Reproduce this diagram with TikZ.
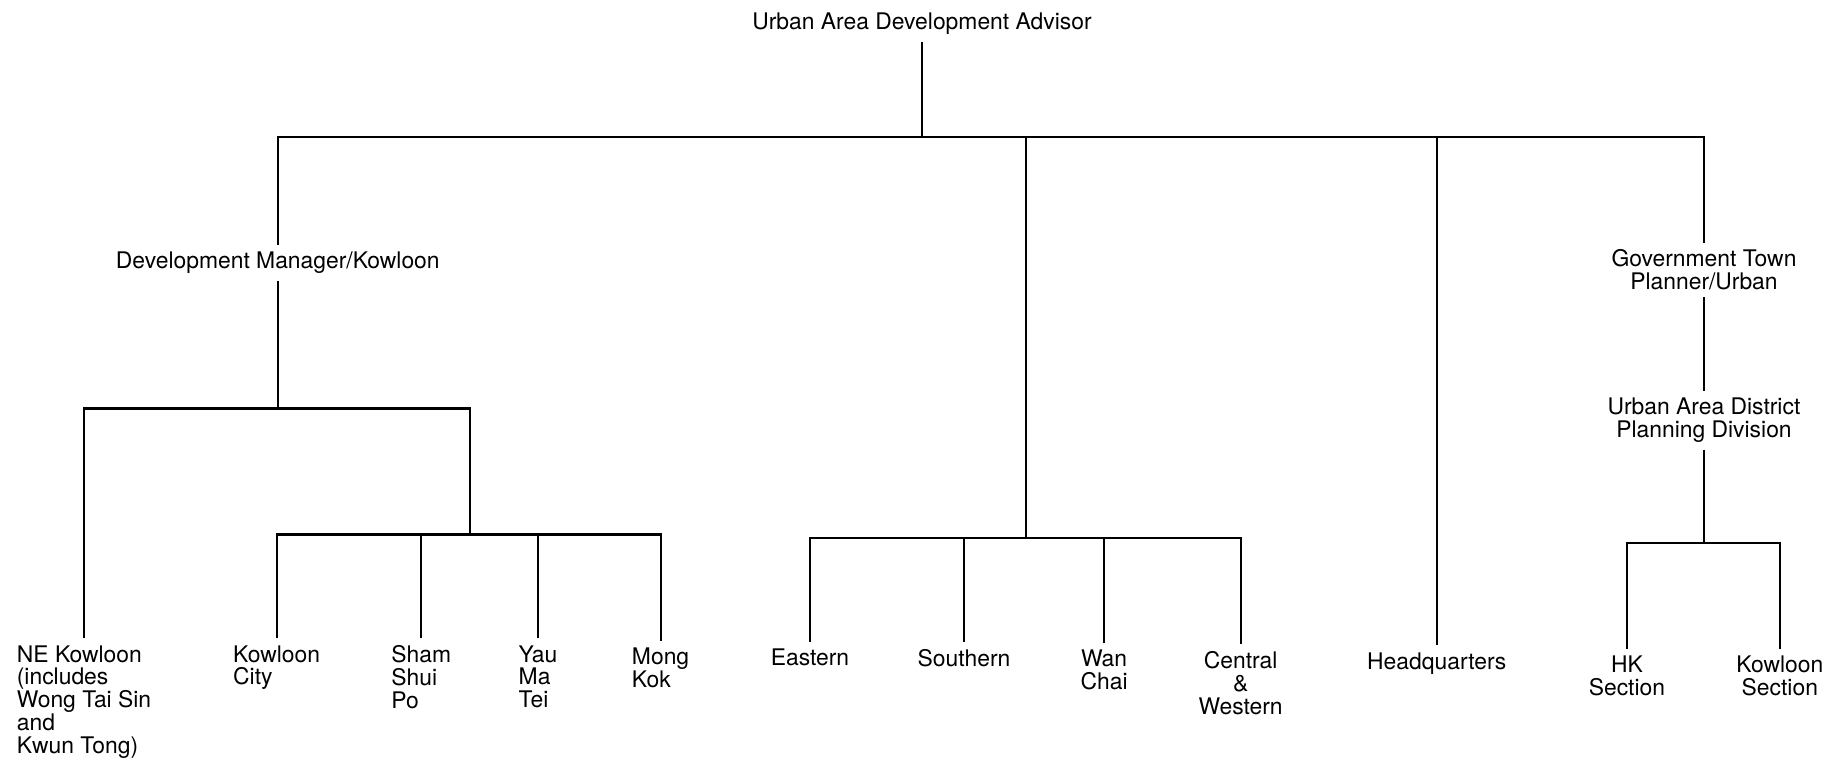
\documentclass[tikz,border=0pt]{standalone}
\usepackage{fontspec}
\setmainfont{TeX Gyre Heros}
\begin{document}
\begin{tikzpicture}[x=0.5pt,y=-0.5pt,
  lab/.style={inner sep=0pt,outer sep=3pt,font=\fontsize{9.8pt}{9.8pt}\selectfont},
  leaf/.style={lab,anchor=north,align=left},
  cleaf/.style={lab,anchor=north,align=center},
  link/.style={line width=0.9pt}]
\useasboundingbox (0,0) rectangle (1568,649);

% levels of the horizontal bars
\coordinate (b1) at (0,117);
\coordinate (kl) at (0,350);
\coordinate (kj) at (403,458);
\coordinate (mj) at (879,461);
\coordinate (rj) at (1460,465);

% heads
\node[lab,anchor=north] (adv) at (790,5) {Urban Area Development Advisor};
\node[lab,anchor=north] (dm) at (238,210) {Development Manager/Kowloon};
\node[cleaf] (gtp) at (1460,208) {Government Town\\Planner/Urban};
\node[cleaf] (uad) at (1460,335) {Urban Area District\\Planning Division};

% Kowloon districts
\node[leaf] (ne) at (72,547) {NE Kowloon\\(includes\\Wong Tai Sin\\and\\Kwun Tong)};
\node[leaf] (kc) at (237,547) {Kowloon\\City};
\node[leaf] (ssp) at (361,547) {Sham\\Shui\\Po};
\node[leaf] (ymt) at (461,547) {Yau\\Ma\\Tei};
\node[leaf] (mk) at (566,549) {Mong\\Kok};

% Hong Kong Island districts
\node[cleaf] (east) at (694,550) {Eastern};
\node[cleaf] (sth) at (826,550) {Southern};
\node[cleaf] (wan) at (946,551) {Wan\\Chai};
\node[cleaf] (cw) at (1063,552) {Central\\\&\\Western};

\node[cleaf] (hq) at (1231,553) {Headquarters};

% planning sections
\node[cleaf] (hks) at (1394,556) {HK\\Section};
\node[cleaf] (kls) at (1525,556) {Kowloon\\Section};

% top level
\draw[link] (adv.south) -- (adv.south |- b1);
\draw[link] (dm.north) |- (gtp.north |- b1) -- (gtp.north);
\draw[link] (mj |- b1) -- (mj);
\draw[link] (hq.north) -- (hq.north |- b1);

% Kowloon branch
\draw[link] (dm.south) -- (dm.south |- kl);
\draw[link] (ne.north) |- (kj |- kl) -- (kj);
\draw[link] (kc.north) |- (mk.north |- kj) -- (mk.north);
\draw[link] (ssp.north) -- (ssp.north |- kj);
\draw[link] (ymt.north) -- (ymt.north |- kj);

% Hong Kong Island branch
\draw[link] (east.north) |- (cw.north |- mj) -- (cw.north);
\draw[link] (sth.north) -- (sth.north |- mj);
\draw[link] (wan.north) -- (wan.north |- mj);

% planning branch
\draw[link] (gtp.south) -- (uad.north);
\draw[link] (uad.south) -- (uad.south |- rj);
\draw[link] (hks.north) |- (kls.north |- rj) -- (kls.north);
\end{tikzpicture}
\end{document}
